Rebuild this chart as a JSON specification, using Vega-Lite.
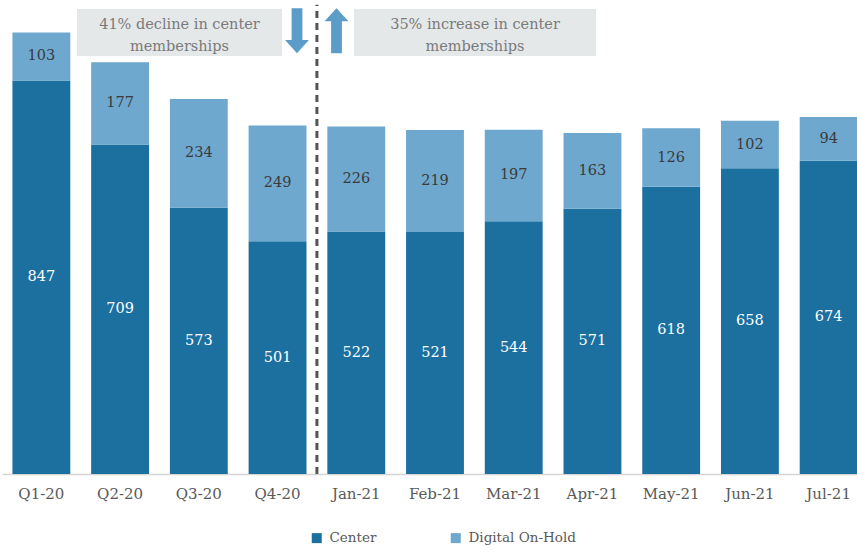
{
  "$schema": "https://vega.github.io/schema/vega-lite/v6.json",
  "width": 866,
  "height": 474,
  "padding": {"left": 2, "top": 0, "right": 0, "bottom": 0},
  "config": {"view": {"stroke": null}, "font": "DejaVu Serif"},
  "datasets": {
    "bars": [
      {"period": "Q1-20", "series": "Center", "value": 847},
      {"period": "Q1-20", "series": "Digital On-Hold", "value": 103},
      {"period": "Q2-20", "series": "Center", "value": 709},
      {"period": "Q2-20", "series": "Digital On-Hold", "value": 177},
      {"period": "Q3-20", "series": "Center", "value": 573},
      {"period": "Q3-20", "series": "Digital On-Hold", "value": 234},
      {"period": "Q4-20", "series": "Center", "value": 501},
      {"period": "Q4-20", "series": "Digital On-Hold", "value": 249},
      {"period": "Jan-21", "series": "Center", "value": 522},
      {"period": "Jan-21", "series": "Digital On-Hold", "value": 226},
      {"period": "Feb-21", "series": "Center", "value": 521},
      {"period": "Feb-21", "series": "Digital On-Hold", "value": 219},
      {"period": "Mar-21", "series": "Center", "value": 544},
      {"period": "Mar-21", "series": "Digital On-Hold", "value": 197},
      {"period": "Apr-21", "series": "Center", "value": 571},
      {"period": "Apr-21", "series": "Digital On-Hold", "value": 163},
      {"period": "May-21", "series": "Center", "value": 618},
      {"period": "May-21", "series": "Digital On-Hold", "value": 126},
      {"period": "Jun-21", "series": "Center", "value": 658},
      {"period": "Jun-21", "series": "Digital On-Hold", "value": 102},
      {"period": "Jul-21", "series": "Center", "value": 674},
      {"period": "Jul-21", "series": "Digital On-Hold", "value": 94}
    ]
  },
  "layer": [
    {
      "data": {"name": "bars"},
      "encoding": {
        "x": {
          "field": "period",
          "type": "nominal",
          "sort": null,
          "scale": {"paddingInner": 0.265, "paddingOuter": 0.1325},
          "axis": {
            "title": null,
            "labelAngle": 0,
            "ticks": false,
            "tickSize": 0,
            "labelPadding": 12,
            "labelFont": "DejaVu Serif",
            "labelFontSize": 15,
            "labelColor": "#595959",
            "domainColor": "#d5d5d5",
            "domainWidth": 1.5
          }
        },
        "y": {
          "field": "value",
          "type": "quantitative",
          "stack": "zero",
          "scale": {"domain": [0, 1020], "nice": false},
          "axis": null
        },
        "order": {"field": "series", "sort": "ascending"}
      },
      "layer": [
        {
          "mark": {"type": "bar"},
          "encoding": {
            "color": {
              "field": "series",
              "type": "nominal",
              "scale": {"domain": ["Center", "Digital On-Hold"], "range": ["#1c70a0", "#6fa8cf"]},
              "legend": {
                "title": null,
                "orient": "none",
                "direction": "horizontal",
                "legendX": 308,
                "legendY": 531,
                "symbolType": "square",
                "symbolSize": 100,
                "symbolStrokeWidth": 0,
                "labelFont": "DejaVu Serif",
                "labelFontSize": 13.5,
                "labelColor": "#595959",
                "labelOffset": 6,
                "columnPadding": 72,
                "padding": 0
              }
            }
          }
        },
        {
          "mark": {"type": "text", "fontSize": 14.5, "baseline": "middle", "font": "DejaVu Serif"},
          "encoding": {
            "y": {"field": "value", "type": "quantitative", "stack": "zero", "bandPosition": 0.5},
            "text": {"field": "value", "type": "quantitative"},
            "color": {
              "condition": {"test": "datum.series === 'Center'", "value": "#ffffff"},
              "value": "#3a3a3a"
            }
          }
        }
      ]
    },
    {
      "layer": [
        {
          "data": {"values": [{"box": "decline"}]},
          "mark": {"type": "rect", "color": "#e5e8e9"},
          "encoding": {
            "x": {"datum": 0.953, "type": "quantitative", "scale": {"domain": [0, 11], "nice": false, "zero": false}, "axis": null},
            "x2": {"datum": 3.556},
            "y": {"datum": 899.5, "type": "quantitative"},
            "y2": {"datum": 1000.6}
          }
        },
        {
          "data": {"values": [{"box": "increase"}]},
          "mark": {"type": "rect", "color": "#e5e8e9"},
          "encoding": {
            "x": {"datum": 4.471, "type": "quantitative"},
            "x2": {"datum": 7.545},
            "y": {"datum": 899.5, "type": "quantitative"},
            "y2": {"datum": 1000.6}
          }
        },
        {
          "data": {"values": [{"label": ["41% decline in center", "memberships"]}]},
          "mark": {"type": "text", "fontSize": 14.5, "color": "#7a7a7a", "font": "DejaVu Serif", "baseline": "middle", "align": "center", "lineHeight": 22},
          "encoding": {
            "x": {"datum": 2.254, "type": "quantitative"},
            "y": {"datum": 966, "type": "quantitative"},
            "text": {"field": "label"}
          }
        },
        {
          "data": {"values": [{"label": ["35% increase in center", "memberships"]}]},
          "mark": {"type": "text", "fontSize": 14.5, "color": "#7a7a7a", "font": "DejaVu Serif", "baseline": "middle", "align": "center", "lineHeight": 22},
          "encoding": {
            "x": {"datum": 6.008, "type": "quantitative"},
            "y": {"datum": 966, "type": "quantitative"},
            "text": {"field": "label"}
          }
        },
        {
          "data": {"values": [{"divider": "2020/2021"}]},
          "mark": {"type": "rule", "color": "#555555", "strokeWidth": 3, "strokeDash": [7, 5]},
          "encoding": {
            "x": {"datum": 4.0, "type": "quantitative"},
            "y": {"datum": 0, "type": "quantitative"},
            "y2": {"datum": 1010}
          }
        },
        {
          "data": {"values": [{"arrow": "down"}]},
          "mark": {"type": "point", "shape": "M-0.24,-1L0.24,-1L0.24,0.42L0.53,0.42L0,1L-0.53,0.42L-0.24,0.42Z", "filled": true, "opacity": 1, "size": 2025, "color": "#5b9cc9", "strokeWidth": 0},
          "encoding": {
            "x": {"datum": 3.747, "type": "quantitative"},
            "y": {"datum": 954, "type": "quantitative"}
          }
        },
        {
          "data": {"values": [{"arrow": "up"}]},
          "mark": {"type": "point", "shape": "M-0.24,1L0.24,1L0.24,-0.42L0.53,-0.42L0,-1L-0.53,-0.42L-0.24,-0.42Z", "filled": true, "opacity": 1, "size": 2025, "color": "#5b9cc9", "strokeWidth": 0},
          "encoding": {
            "x": {"datum": 4.249, "type": "quantitative"},
            "y": {"datum": 954, "type": "quantitative"}
          }
        }
      ]
    }
  ],
  "resolve": {"scale": {"x": "independent"}}
}
